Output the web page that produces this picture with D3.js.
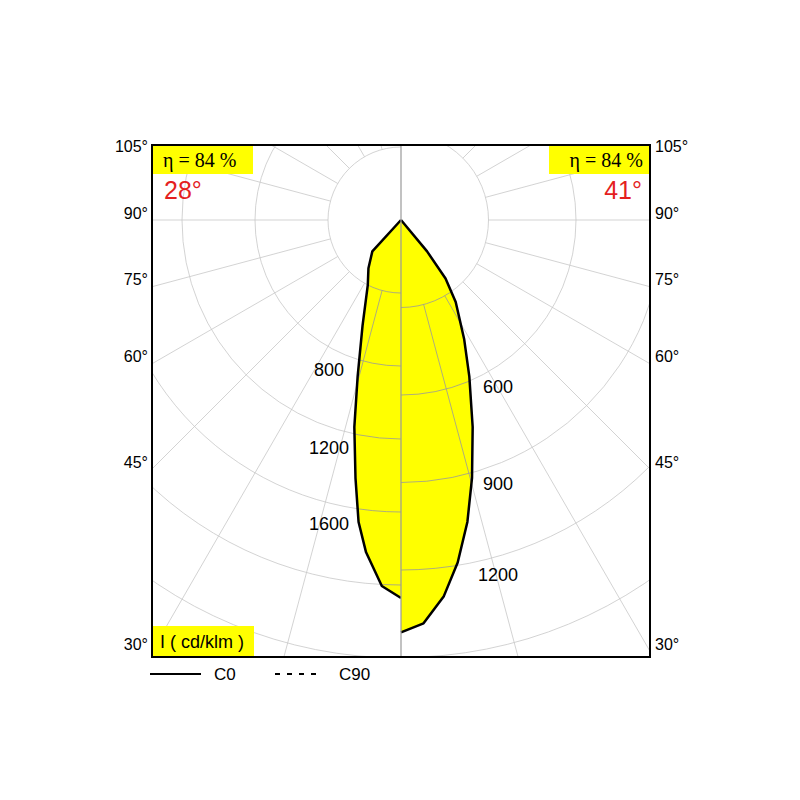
<!DOCTYPE html>
<html><head><meta charset="utf-8">
<script src="https://cdn.jsdelivr.net/npm/d3@7"></script>
<style>body{margin:0;background:#fff}</style></head>
<body><svg id="c" width="800" height="800"></svg>
<script>
// C0 half (left): [gamma deg, cd/klm]
const leftCurve = [[0,2071],[3,2008],[6,1831],[8,1671],[10,1436],[12.7,1163],[15.5,889],[20,616],[27,401],[34,319],[42.4,233],[90,0]];
// C90 half (right)
const rightCurve = [[0,1414],[3.2,1385],[6.5,1298],[9.4,1190],[12.4,1060],[15.4,917],[19.1,751],[23.6,585],[27.9,463],[33.7,338],[37.3,252],[39.7,140],[90,0]];
const leftTicks = [400,800,1200,1600,2000,2400,2800,3200];
const rightTicks = [300,600,900,1200,1500,1800,2100,2400,2700];
const leftLabels = [800,1200,1600];
const rightLabels = [600,900,1200];
const angleLabels = [105,90,75,60,45,30];
const gammas = d3.range(15,181,15);
const eta = ["η = 84 %","η = 84 %"];
const beam = ["28°","41°"];

const svg = d3.select("#c");
const X0=152,X1=650,Y0=145,Y1=657, cx=401, cy=220;
const rL = d3.scaleLinear().domain([0,400]).range([0,73]);
const rR = d3.scaleLinear().domain([0,300]).range([0,87.5]);

svg.append("clipPath").attr("id","cl").append("rect").attr("x",cx-260).attr("y",Y0).attr("width",260).attr("height",Y1-Y0).attr("x",X0).attr("width",cx-X0);
svg.append("clipPath").attr("id","cr").append("rect").attr("x",cx).attr("y",Y0).attr("width",X1-cx).attr("height",Y1-Y0);

const pt=(g,r,s)=>[cx+s*r*Math.sin(g*Math.PI/180), cy+r*Math.cos(g*Math.PI/180)];

function half(clip, scale, ticks, sgn, curve){
  const g = svg.append("g").attr("clip-path",`url(#${clip})`);
  const r0 = scale(ticks[0]);
  g.selectAll("circle").data(ticks).join("circle").attr("cx",cx).attr("cy",cy)
    .attr("r",d=>scale(d)).attr("fill","none").attr("stroke","#c8c8c8").attr("stroke-width",0.8);
  g.selectAll("line").data(gammas).join("line")
    .attr("x1",d=>pt(d,r0,sgn)[0]).attr("y1",d=>pt(d,r0,sgn)[1])
    .attr("x2",d=>pt(d,900,sgn)[0]).attr("y2",d=>pt(d,900,sgn)[1])
    .attr("stroke","#c8c8c8").attr("stroke-width",0.8);
  const line = d3.line().x(d=>pt(d[0],scale(d[1]),sgn)[0]).y(d=>pt(d[0],scale(d[1]),sgn)[1]);
  const poly = [[0,0],...curve];
  svg.append("path").attr("d",line(poly)+"Z").attr("fill","#ffff00").attr("stroke","none");
  // grid over the fill (thin)
  const g2 = svg.append("g").attr("clip-path",`url(#${clip})`);
  const cp = "clip"+clip;
  g2.append("clipPath").attr("id",cp).append("path").attr("d",line(poly)+"Z");
  const g3=g2.append("g").attr("clip-path",`url(#${cp})`);
  g3.selectAll("circle").data(ticks).join("circle").attr("cx",cx).attr("cy",cy)
    .attr("r",d=>scale(d)).attr("fill","none").attr("stroke","#999").attr("stroke-width",0.8);
  g3.selectAll("line").data(gammas).join("line")
    .attr("x1",d=>pt(d,r0,sgn)[0]).attr("y1",d=>pt(d,r0,sgn)[1])
    .attr("x2",d=>pt(d,900,sgn)[0]).attr("y2",d=>pt(d,900,sgn)[1])
    .attr("stroke","#999").attr("stroke-width",0.8);
  svg.append("path").attr("d",line(curve)).attr("fill","none").attr("stroke","#000").attr("stroke-width",2.5).attr("stroke-linejoin","round");
}
half("cl", rL, leftTicks, -1, leftCurve);
half("cr", rR, rightTicks, 1, rightCurve);

svg.append("line").attr("x1",cx).attr("x2",cx).attr("y1",Y0).attr("y2",Y1).attr("stroke","#999").attr("stroke-width",1.2);
svg.append("rect").attr("x",X0).attr("y",Y0).attr("width",X1-X0).attr("height",Y1-Y0).attr("fill","none").attr("stroke","#000").attr("stroke-width",2);

const font="Liberation Sans, Arial, sans-serif";
svg.selectAll(".ll").data(leftLabels).join("text").attr("font-family",font).attr("font-size",18)
  .attr("text-anchor","middle").attr("dominant-baseline","central")
  .attr("x",cx-72).attr("y",d=>{const r=rL(d)+20;return cy+Math.sqrt(r*r-72*72);}).text(d=>d);
svg.selectAll(".rl").data(rightLabels).join("text").attr("font-family",font).attr("font-size",18)
  .attr("text-anchor","middle").attr("dominant-baseline","central")
  .attr("x",cx+97).attr("y",d=>{const r=rR(d)+18;return cy+Math.sqrt(r*r-96*96);}).text(d=>d);

// angle labels at frame edges
angleLabels.forEach(a=>{
  const t=Math.tan((90-a)*Math.PI/180);
  const y=cy+(X1-cx)*t - 7;
  svg.append("text").attr("font-family",font).attr("font-size",16).attr("x",X0-4).attr("y",Math.max(y,Y0)).attr("text-anchor","end").attr("dominant-baseline","central").text(a+"°");
  svg.append("text").attr("font-family",font).attr("font-size",16).attr("x",X1+5).attr("y",Math.max(y,Y0)).attr("text-anchor","start").attr("dominant-baseline","central").text(a+"°");
});

// eta boxes
[[X0+1,"start",X0+10],[X1-101,"end",X1-7]].forEach((b,i)=>{
  svg.append("rect").attr("x",b[0]).attr("y",Y0+1).attr("width",100).attr("height",28).attr("fill","#ffff00");
  svg.append("text").attr("font-family","Liberation Serif, Times New Roman, serif").attr("font-size",20)
    .attr("x",i?X1-7:X0+11).attr("text-anchor",b[1]).attr("y",Y0+22).text(eta[i]);
  svg.append("text").attr("font-family",font).attr("font-size",25).attr("fill","#e41f1f")
    .attr("x",i?X1-8:X0+12).attr("text-anchor",b[1]).attr("y",Y0+54).text(beam[i]);
});
svg.append("rect").attr("x",X0+1).attr("y",Y1-31).attr("width",101).attr("height",30).attr("fill","#ffff00");
svg.append("text").attr("font-family",font).attr("font-size",18).attr("x",X0+8).attr("y",Y1-9).text("I ( cd/klm )");

// legend
svg.append("line").attr("x1",150).attr("x2",201).attr("y1",674).attr("y2",674).attr("stroke","#000").attr("stroke-width",2);
svg.append("text").attr("font-family",font).attr("font-size",17).attr("x",214).attr("y",680).text("C0");
svg.append("line").attr("x1",275).attr("x2",320).attr("y1",674).attr("y2",674).attr("stroke","#000").attr("stroke-width",2).attr("stroke-dasharray","5,7");
svg.append("text").attr("font-family",font).attr("font-size",17).attr("x",339).attr("y",680).text("C90");
</script></body></html>
